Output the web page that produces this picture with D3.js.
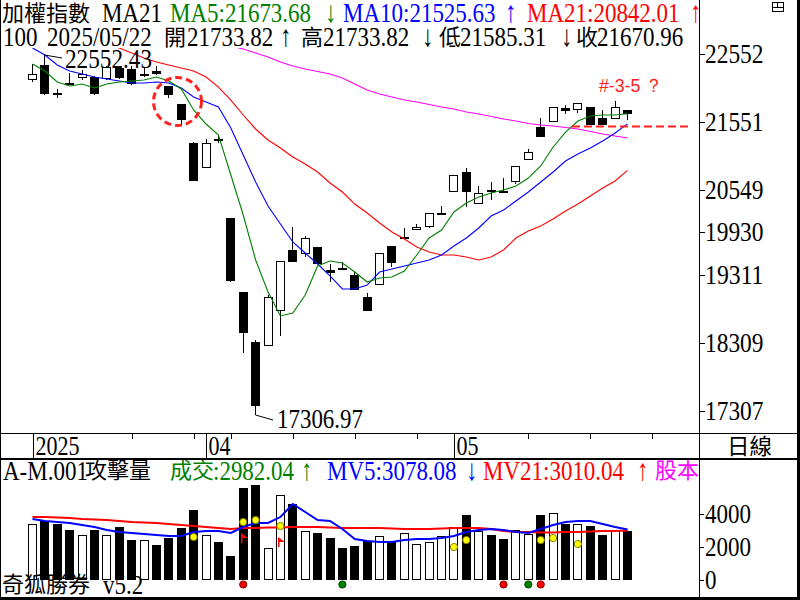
<!DOCTYPE html>
<html lang="zh-Hant">
<head>
<meta charset="UTF-8" />
<title>加權指數 日線</title>
<script src="https://d3js.org/d3.v7.min.js"></script>
<style>
  body { margin: 0; background: #fff; }
  svg { display: block; }
</style>
</head>
<body>
<svg id="chart"></svg>
<script>
var width = 800, height = 600;

// trading days shown
var dates = ["2025/03/12","2025/03/13","2025/03/14","2025/03/17","2025/03/18","2025/03/19","2025/03/20",
  "2025/03/21","2025/03/24","2025/03/25","2025/03/26","2025/03/27","2025/03/28","2025/03/31","2025/04/01",
  "2025/04/02","2025/04/07","2025/04/08","2025/04/09","2025/04/10","2025/04/11","2025/04/14","2025/04/15",
  "2025/04/16","2025/04/17","2025/04/18","2025/04/21","2025/04/22","2025/04/23","2025/04/24","2025/04/25",
  "2025/04/28","2025/04/29","2025/04/30","2025/05/02","2025/05/05","2025/05/06","2025/05/07","2025/05/08",
  "2025/05/09","2025/05/12","2025/05/13","2025/05/14","2025/05/15","2025/05/16","2025/05/19","2025/05/20",
  "2025/05/21","2025/05/22"];

var priceOpen = [22170,22391,21985,22119,22200,22214,22185,22347,22332,22251,22303,22082,21818,21245,20877,
  21303,20143,19055,18321,18262,18776,19673,19614,19717,19379,19408,19305,18982,19158,19731,19856,19966,
  20010,20210,20525,20819,20348,20554,20545,20672,20995,21480,21553,21759,21730,21774,21612,21597,21733.82];
var priceHigh = [22405,22552.43,22038,22278,22317,22229,22376,22361,22376,22361,22376,22082,21818,21259,21303,
  21348,20143,19055,18350,19011,19511,20010,19878,19717,19467,19496,19349,19041,19628,19731,19996,20055,
  20216,20319,20775,20877,20613,20672,20730,20907,21157,21612,21774,21803,21832,21774,21730,21862,21733.82];
var priceLow = [22141,21950,21906,22105,22170,21950,22170,22185,22097,22214,22251,21906,21509,20686,20877,
  21245,19202,18159,17306.97,18262,18409,19496,19570,19467,19202,19379,19085,18776,19158,19423,19849,19966,
  19996,20187,20525,20304,20348,20407,20532,20642,20995,21333,21553,21671,21685,21509,21509,21597,21585.31];
var priceClose = [22259,21965,21975,22112,22259,21965,22361,22200,22112,22259,22259,21950,21583,20686,21245,
  21296,19217,18453,17380,18982,19511,19496,19849,19467,19335,19379,19085,18776,19628,19482,19864,20010,
  20216,20220,20775,20525,20510,20525,20539,20907,21112,21333,21774,21715,21832,21509,21509,21774,21670.96];

var ma5 = [22405,22303,22141,22082,22112,22053,22112,22141,22156,22170,22214,22156,22038,21730,21524,21362,
  20775,20187,19526,19055,18703,18747,19011,19437,19511,19482,19349,19202,19261,19276,19364,19599,19849,
  19966,20231,20363,20451,20510,20554,20613,20730,20907,21186,21406,21568,21641,21656,21656,21673.68];
var ma10 = [22641,22538,22391,22303,22259,22214,22185,22156,22126,22126,22141,22126,22053,21921,21847,21774,
  21465,21068,20672,20319,20055,19790,19628,19467,19291,19100,19100,19158,19349,19393,19437,19482,19526,
  19599,19731,19849,19996,20172,20260,20392,20525,20672,20819,20980,21083,21171,21274,21392,21525.63];
var ma21 = [23052,22978,22905,22846,22787,22743,22699,22641,22567,22494,22435,22391,22347,22303,22214,22067,
  21876,21656,21450,21289,21171,21039,20936,20819,20657,20525,20348,20216,20069,19937,19834,19717,19643,
  19599,19599,19570,19526,19570,19673,19849,19952,20025,20128,20246,20348,20466,20584,20686,20842.01];
var ma60 = [23316,23287,23258,23228,23199,23155,23111,23067,23023,22978,22934,22890,22846,22802,22758,22714,
  22670,22626,22567,22508,22435,22376,22332,22295,22259,22200,22112,22023,21965,21921,21876,21847,21810,
  21774,21744,21700,21671,21634,21597,21568,21531,21509,21494,21472,21450,21414,21377,21348,21318];

var volume = [3394,3594,3394,3030,2727,3030,2727,3212,2424,2465,2121,2566,3152,4242,2727,2303,1455,5576,5758,
  1919,5192,4646,2970,2869,2545,1939,2061,2364,2707,2404,2889,2182,2343,2707,3253,3939,3010,2727,2485,3051,
  2808,3939,4101,3434,3434,3273,2727,3030,2982.04];
var mv5 = [3713,3591,3530,3469,3348,3226,3043,2922,2861,2800,2739,2678,2678,2922,2982,2982,2861,3226,3469,
  3469,3834,4626,4139,3652,3591,3104,2495,2374,2313,2313,2435,2495,2495,2556,2678,2922,3043,3104,3043,2922,
  2861,3104,3348,3530,3591,3591,3408,3226,3078.08];
var mv21 = [3834,3834,3804,3773,3713,3682,3652,3591,3530,3500,3469,3408,3348,3287,3226,3165,3104,3165,3165,
  3195,3195,3226,3226,3226,3195,3165,3165,3165,3165,3134,3104,3104,3104,3134,3165,3165,3165,3104,2982,2921,
  2921,2891,2891,2921,2921,2952,2982,2982,3010.04];

// signal marks on the volume panel
var yellowIdx = [13,17,18,20,34,35,41,42,44];
var yellowVal = [2617,3530,3652,3287,2008,2434,2434,2556,2191];
var flagIdx = [17,20];
var flagVal = [2860,2617];
var redDotIdx = [17,38,41];
var greenDotIdx = [25,40];

var priceTicks = [22552,21551,20549,19930,19311,18309,17307];
var volTicks = [4000,2000,0];
var weekTickIdx = [8,13,16,21,26,31,40,45,50];
var monthIdx = [0,14,34];
var monthLabels = ["2025","04","05"];

var svg = d3.select("#chart").attr("width", width).attr("height", height)
  .style("font-family", "'Liberation Serif', serif");

var x = d3.scaleLinear().domain([0, dates.length - 1]).range([32.5, 627.5]);
var y = d3.scaleLinear().domain([17306.97, 22552.43]).range([411, 54]);
var yV = d3.scaleLinear().domain([0, 4000]).range([580, 514.3]);

var left = function (i) { return Math.round(x(i) - 4.5); };
var isCjk = function (s) { return /[\u2E80-\u9FFF\uFF00-\uFFEF]/.test(s); };

// text in the terminal's tall bitmap look: latin stretched a bit vertically, optional fixed width
function txt(g, px, py, s, color, w) {
  var cjk = isCjk(s);
  var arrow = /^[↑↓]$/.test(s);
  var sy = cjk ? 1 : (arrow ? 1.3 : 1.15);
  var t = g.append("text")
    .attr("transform", `translate(${px},${py}) scale(1,${sy})`)
    .style("font-family", cjk ? "'Noto Sans CJK TC'" : "'Liberation Serif','DejaVu Serif',serif")
    .style("font-size", cjk ? "22px" : "23px")
    .attr("fill", color || "#000")
    .text(s);
  if (w) t.attr("textLength", w).attr("lengthAdjust", "spacingAndGlyphs");
  return t;
}

svg.append("rect").attr("width", width).attr("height", height).attr("fill", "#fff");

svg.append("defs").append("clipPath").attr("id", "plot")
  .append("rect").attr("x", 2).attr("y", 48).attr("width", 697).attr("height", 385);

var plot = svg.append("g").attr("clip-path", "url(#plot)");

// candles
var candles = plot.append("g").attr("shape-rendering", "crispEdges");
dates.forEach(function (d, i) {
  var o = priceOpen[i], c = priceClose[i];
  var up = c >= o;
  var l = left(i);
  var yt = Math.round(y(Math.max(o, c))), yb = Math.round(y(Math.min(o, c)));
  candles.append("line")
    .attr("x1", l + 4.5).attr("x2", l + 4.5)
    .attr("y1", Math.round(y(priceHigh[i]))).attr("y2", Math.round(y(priceLow[i])))
    .attr("stroke", "#000");
  if (yb - yt < 2) {
    candles.append("rect").attr("x", l).attr("y", yt).attr("width", 9).attr("height", 2).attr("fill", "#000");
  } else if (up) {
    candles.append("rect").attr("x", l + 0.5).attr("y", yt + 0.5)
      .attr("width", 8).attr("height", yb - yt - 1)
      .attr("fill", "#fff").attr("stroke", "#000");
  } else {
    candles.append("rect").attr("x", l).attr("y", yt).attr("width", 9).attr("height", yb - yt).attr("fill", "#000");
  }
});

// moving averages
var line = d3.line().x(function (d, i) { return x(i); }).y(function (d) { return y(d); });
[[ma60, "#ff00ff"], [ma21, "#ff0000"], [ma10, "#0000ff"], [ma5, "#008000"]].forEach(function (s) {
  plot.append("path").attr("d", line(s[0])).attr("fill", "none").attr("stroke", s[1]).attr("stroke-width", 1.1);
});

// annotations
svg.append("circle").attr("cx", 177.5).attr("cy", 101.5).attr("r", 24)
  .attr("fill", "none").attr("stroke", "#ff2020").attr("stroke-width", 3).attr("stroke-dasharray", "7,4");
svg.append("line").attr("x1", 572).attr("x2", 690).attr("y1", 126.5).attr("y2", 126.5)
  .attr("stroke", "#ff2020").attr("stroke-width", 2).attr("stroke-dasharray", "8,4");
svg.append("text").attr("x", 599).attr("y", 92).attr("fill", "#ff2020")
  .attr("textLength", 64).attr("lengthAdjust", "spacingAndGlyphs")
  .style("font-family", "'Liberation Sans', sans-serif").style("font-size", "19px").text("#-3-5 ？");

// high / low labels
var hiIdx = priceHigh.indexOf(d3.max(priceHigh));
var loIdx = priceLow.indexOf(d3.min(priceLow));
svg.append("path").attr("d", `M${left(hiIdx) + 4.5},${y(priceHigh[hiIdx]) + 1}L62,58`)
  .attr("stroke", "#000").attr("fill", "none");
txt(svg, 65, 68, d3.format(".2f")(priceHigh[hiIdx]), "#000", 87);
svg.append("path").attr("d", `M${left(loIdx) + 4.5},${y(priceLow[loIdx])}V415L273,420`)
  .attr("stroke", "#000").attr("fill", "none");
txt(svg, 277, 428, d3.format(".2f")(priceLow[loIdx]), "#000", 86);

// price axis
var pAxis = svg.append("g");
priceTicks.forEach(function (t) {
  var ty = Math.round(y(t)) + 0.5;
  pAxis.append("line").attr("x1", 699).attr("x2", 705).attr("y1", ty).attr("y2", ty).attr("stroke", "#000");
  txt(pAxis, 705, ty + 8.5, String(t), "#000", String(t).length * 11.7);
});

// date axis
var dAxis = svg.append("g").attr("shape-rendering", "crispEdges");
weekTickIdx.forEach(function (i) {
  var tx = Math.round(x(i)) + 0.5;
  dAxis.append("line").attr("x1", tx).attr("x2", tx).attr("y1", 433).attr("y2", 439).attr("stroke", "#000");
});
monthIdx.forEach(function (i, k) {
  var tx = Math.round(x(i)) + 0.5;
  dAxis.append("line").attr("x1", tx).attr("x2", tx).attr("y1", 433).attr("y2", 458).attr("stroke", "#000");
  txt(dAxis, tx + 2, 455, monthLabels[k], "#000", monthLabels[k].length * 11);
});
txt(svg, 727, 454, "日線", "#000", 45);

// volume bars
var vol = svg.append("g").attr("shape-rendering", "crispEdges");
volume.forEach(function (v, i) {
  var l = left(i);
  var top = Math.round(yV(v)), base = Math.round(yV(0));
  if (priceClose[i] >= priceOpen[i]) {
    vol.append("rect").attr("x", l + 0.5).attr("y", top + 0.5).attr("width", 8).attr("height", base - top - 1)
      .attr("fill", "#fff").attr("stroke", "#000");
  } else {
    vol.append("rect").attr("x", l).attr("y", top).attr("width", 9).attr("height", base - top).attr("fill", "#000");
  }
});

var vline = d3.line().x(function (d, i) { return x(i); }).y(function (d) { return yV(d); });
svg.append("path").attr("d", vline(mv21)).attr("fill", "none").attr("stroke", "#ff0000").attr("stroke-width", 2);
svg.append("path").attr("d", vline(mv5)).attr("fill", "none").attr("stroke", "#0000ff").attr("stroke-width", 2);

yellowIdx.forEach(function (i, k) {
  svg.append("circle").attr("cx", x(i)).attr("cy", yV(yellowVal[k])).attr("r", 3.6)
    .attr("fill", "#ffff00").attr("stroke", "#808000").attr("stroke-width", 1);
});
flagIdx.forEach(function (i, k) {
  var fx = left(i) + 2, fy = yV(flagVal[k]);
  svg.append("path").attr("d", `M${fx},${fy}L${fx + 7},${fy + 5}L${fx + 1.5},${fy + 5}V${fy + 10}H${fx}Z`)
    .attr("fill", "#ff0000");
});
redDotIdx.forEach(function (i) {
  svg.append("circle").attr("cx", x(i)).attr("cy", yV(0) + 4.5).attr("r", 3.6)
    .attr("fill", "#ff0000").attr("stroke", "#800000");
});
greenDotIdx.forEach(function (i) {
  svg.append("circle").attr("cx", x(i)).attr("cy", yV(0) + 4.5).attr("r", 3.6)
    .attr("fill", "#008000").attr("stroke", "#004000");
});

// volume axis
volTicks.forEach(function (t) {
  var ty = Math.round(yV(t)) + 0.5;
  svg.append("line").attr("x1", 699).attr("x2", 704).attr("y1", ty).attr("y2", ty).attr("stroke", "#000");
  txt(svg, 705, ty + 8.5, String(t), "#000", String(t).length * 11.5);
});

// headers: [text, x, baseline, colour]
var green = "#008000", blue = "#0000ff", red = "#ff0000";
var head = svg.append("g");
[["加權指數", 2, 20.5, "#000"], ["MA21", 102, 21.5, "#000"],
 ["MA5:21673.68", 170, 21.5, green], ["↓", 325, 21.5, green],
 ["MA10:21525.63", 343, 21.5, blue], ["↑", 505, 21.5, blue],
 ["MA21:20842.01", 527, 21.5, red], ["↑", 690, 21.5, red],
 ["100", 3, 46, "#000"], ["2025/05/22", 47, 46, "#000"],
 ["開", 164, 44.5, "#000"], ["21733.82", 187, 46, "#000"], ["↑", 280, 46, "#000"],
 ["高", 301, 44.5, "#000"], ["21733.82", 323, 46, "#000"], ["↓", 422, 46, "#000"],
 ["低", 439, 44.5, "#000"], ["21585.31", 460, 46, "#000"], ["↓", 561, 46, "#000"],
 ["收", 576, 44.5, "#000"], ["21670.96", 597, 46, "#000"],
 ["A-M.001", 3, 479.5, "#000"], ["攻擊量", 85, 478, "#000"],
 ["成交", 170, 478, green], [":2982.04", 213, 479.5, green], ["↑", 301, 479.5, green],
 ["MV5:3078.08", 327, 479.5, blue], ["↓", 466, 479.5, blue],
 ["MV21:3010.04", 483, 479.5, red], ["↑", 637, 479.5, red],
 ["股本", 655, 478, "#ff00ff"],
 ["奇狐勝券", 2, 592, "#000"], ["v5.2", 103, 593.5, "#000"]
].forEach(function (h) { txt(head, h[1], h[2], h[0], h[3]); });

// small window icon
var icon = svg.append("g").attr("shape-rendering", "crispEdges").attr("fill", "none").attr("stroke", "#000");
icon.append("rect").attr("x", 772.5).attr("y", 2.5).attr("width", 11).attr("height", 9);
icon.append("path").attr("d", "M772.5,7.5H783.5M777.5,2.5V7.5");

// frame
var frame = svg.append("g").attr("shape-rendering", "crispEdges").attr("stroke", "#000");
frame.append("line").attr("x1", 0.5).attr("x2", 0.5).attr("y1", 0).attr("y2", 600);
frame.append("line").attr("x1", 699.5).attr("x2", 699.5).attr("y1", 0).attr("y2", 598);
frame.append("line").attr("x1", 0).attr("x2", 798).attr("y1", 433.5).attr("y2", 433.5);
frame.append("line").attr("x1", 0).attr("x2", 798).attr("y1", 458.5).attr("y2", 458.5).attr("stroke-width", 2);
frame.append("line").attr("x1", 798).attr("x2", 798).attr("y1", 0).attr("y2", 600).attr("stroke-width", 3);
frame.append("line").attr("x1", 0).attr("x2", 800).attr("y1", 598).attr("y2", 598).attr("stroke-width", 3);
</script>
</body>
</html>
